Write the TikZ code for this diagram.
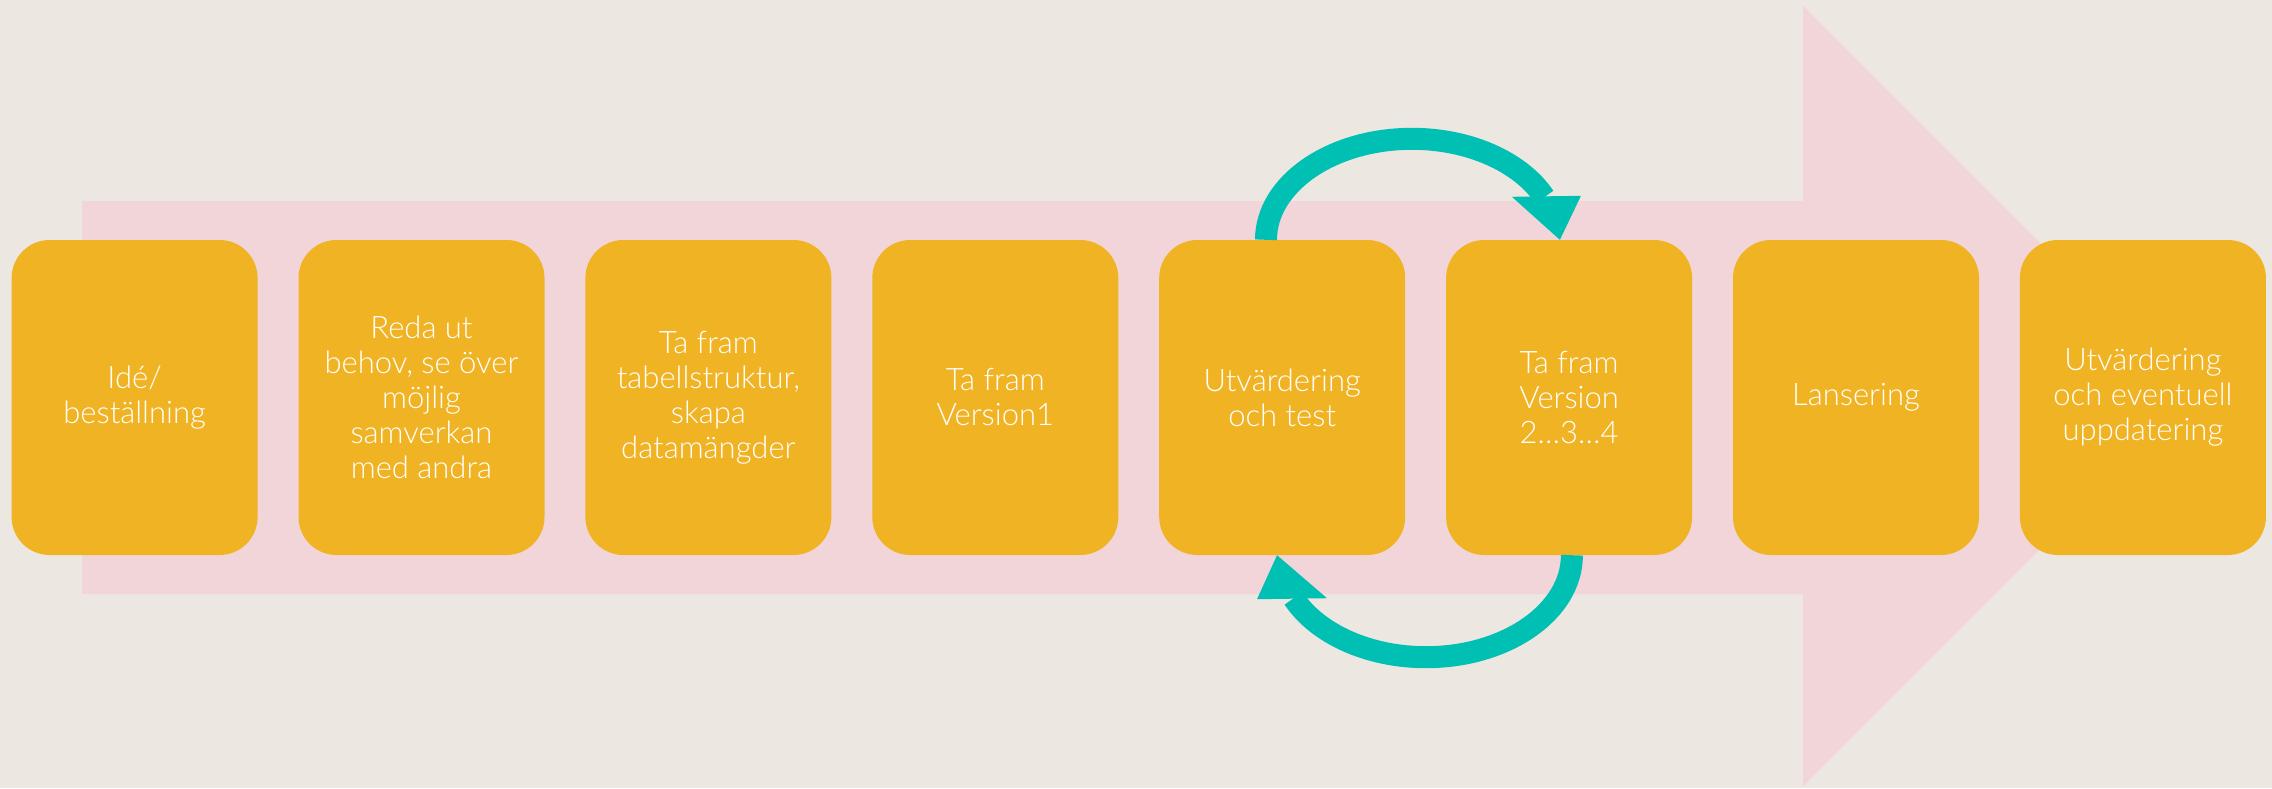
\documentclass[tikz,border=0pt]{standalone}
\usepackage{fontspec}
\setmainfont{Lato}[UprightFont={* Light}]
\usetikzlibrary{calc}
\definecolor{bgc}{HTML}{ECE7E1}
\definecolor{pinkc}{HTML}{F1D5D8}
\definecolor{boxc}{HTML}{F0B324}
\definecolor{tealc}{HTML}{00BFB3}
\tikzset{
  stepbox/.style={fill=boxc, rounded corners=38pt, minimum width=246pt, minimum height=315pt,
    inner sep=0pt, align=center, text=white, font=\fontsize{31}{35}\selectfont},
  loopline/.style={draw=tealc, line width=22pt, line cap=butt},
  loophead/.style={fill=tealc}
}
\begin{document}
\begin{tikzpicture}[x=1pt,y=-1pt]
\fill[bgc] (0,0) rectangle (2272,788);
\useasboundingbox (0,0) rectangle (2272,788);
% big background arrow
\fill[pinkc] (82,201) -- (1803,201) -- (1803,6) -- (2193,396) -- (1803,786) -- (1803,594) -- (82,594) -- cycle;
% steps
\node[stepbox] (b1) at (134.6,397.5) {Idé/\\beställning};
\node[stepbox] (b2) at (421.5,397.5) {Reda ut\\behov, se över\\möjlig\\samverkan\\med andra};
\node[stepbox] (b3) at (708.4,397.5) {Ta fram\\tabellstruktur,\\skapa\\datamängder};
\node[stepbox] (b4) at (995.3,397.5) {Ta fram\\Version1};
\node[stepbox] (b5) at (1282.2,397.5) {Utvärdering\\och test};
\node[stepbox] (b6) at (1569.1,397.5) {Ta fram\\Version\\2…3…4};
\node[stepbox] (b7) at (1856.0,397.5) {Lansering};
\node[stepbox] (b8) at (2142.9,397.5) {Utvärdering\\och eventuell\\uppdatering};
% loop arrows
\coordinate (ts) at ([xshift=107pt]b5.north west);
\coordinate (te) at ([xshift=114pt]b6.north west);
\coordinate (bs) at ([xshift=126pt]b6.south west);
\coordinate (be) at ([xshift=118pt]b5.south west);
\draw[loopline] (ts) arc[start angle=180, end angle=335, x radius=146, y radius=101];
\fill[loophead] ($(te)+(-48,-43)$) -- ($(te)+(21,-44)$) -- (te) -- cycle;
\draw[loopline] (bs) arc[start angle=0, end angle=155, x radius=146, y radius=102];
\fill[loophead] ($(be)+(-20,44)$) -- ($(be)+(50,43)$) -- (be) -- cycle;
\end{tikzpicture}
\end{document}
